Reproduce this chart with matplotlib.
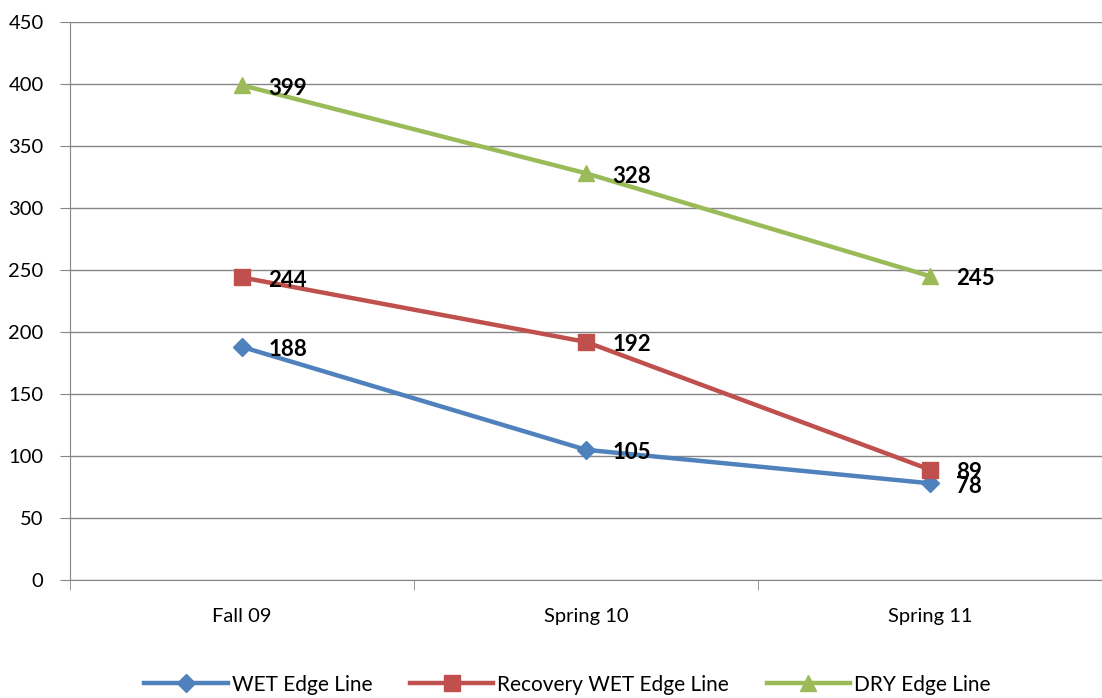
import matplotlib
matplotlib.use("Agg")
import matplotlib.pyplot as plt

categories = ["Fall 09", "Spring 10", "Spring 11"]
wet = [188, 105, 78]
recovery = [244, 192, 89]
dry = [399, 328, 245]
series_names = ["WET Edge Line", "Recovery WET Edge Line", "DRY Edge Line"]
colors = ["#4F81BD", "#C0504D", "#9BBB59"]
markers = ["D", "s", "^"]
msizes = [9, 12, 12]

plt.rcParams['font.family'] = ['Lato', 'DejaVu Sans']

fig = plt.figure(figsize=(11.02, 6.98), dpi=100)
ax = fig.add_axes([70/1102, 1-580/698, 1-70/1102, (580-22)/698])

x = list(range(len(categories)))
for vals, name, c, m, ms in zip([wet, recovery, dry], series_names, colors, markers, msizes):
    ax.plot(x, vals, color=c, lw=3.2, marker=m, markersize=ms, label=name, zorder=3)
    for xi, v in zip(x, vals):
        ax.annotate(str(v), (xi, v), xytext=(19, -2), textcoords="offset points",
                    ha="left", va="center", fontsize=16, fontweight="bold", color="black", zorder=4)

ax.set_xlim(-0.5, 2.5)
ax.set_ylim(0, 450)
ax.set_yticks(range(0, 451, 50))
ax.set_xticks(x)
ax.set_xticklabels(categories, fontsize=14.5)
ax.tick_params(axis='x', length=0, pad=20)
ax.set_xticks([-0.5, 0.5, 1.5, 2.5], minor=True)
ax.tick_params(axis='x', which='minor', length=7, color='#868686')
ax.tick_params(axis='y', labelsize=14.5, length=7, color='#868686', pad=12)
ax.grid(axis='y', color='#868686', lw=1)
ax.set_axisbelow(True)
for s in ["top", "right"]:
    ax.spines[s].set_visible(False)
for s in ["left", "bottom"]:
    ax.spines[s].set_color('#868686')

fig.legend(loc="lower center", ncol=3, frameon=False, fontsize=15,
           bbox_to_anchor=(0.515, -0.022), handlelength=4.0, columnspacing=1.8, handletextpad=0.2)

fig.savefig("out.png", dpi=100)
